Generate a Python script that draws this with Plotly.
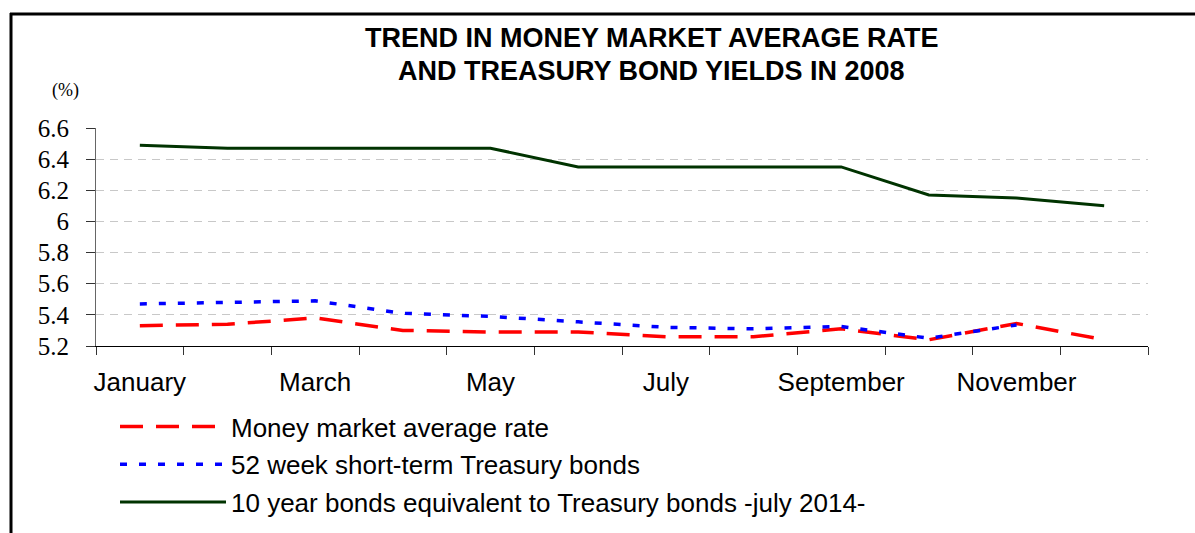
import plotly.graph_objects as go

months = ["January", "February", "March", "April", "May", "June", "July",
          "August", "September", "October", "November", "December"]
tick_labels = ["January", "", "March", "", "May", "", "July", "",
               "September", "", "November", ""]

money_market = [5.33, 5.34, 5.38, 5.30, 5.29, 5.29, 5.26, 5.26, 5.31, 5.24, 5.345, 5.24]
tbill_52w = [5.47, 5.48, 5.49, 5.41, 5.39, 5.355, 5.32, 5.31, 5.325, 5.25, 5.335, None]
bond_10y = [6.49, 6.47, 6.47, 6.47, 6.47, 6.35, 6.35, 6.35, 6.35, 6.17, 6.15, 6.10]

names = ["Money market average rate",
         "52 week short-term Treasury bonds",
         "10 year bonds equivalent to Treasury bonds -july 2014-"]

title_lines = ["<b>TREND IN MONEY MARKET AVERAGE RATE</b>",
               "<b>AND TREASURY BOND YIELDS IN 2008</b>"]

W, H = 1195, 533
L, R, T, B = 96, 1148, 128, 346  # plot area in pixels


def px(x):
    return (x - L) / (R - L)


def py(y):
    return (B - y) / (B - T)


fig = go.Figure()
fig.add_trace(go.Scatter(x=months, y=money_market, name=names[0], mode="lines",
                         line=dict(color="#FF0000", width=3.5, dash="23px,13px"),
                         legendgroup="a"))
fig.add_trace(go.Scatter(x=months, y=tbill_52w, name=names[1], mode="lines",
                         line=dict(color="#0000FF", width=3.5, dash="7px,12px"),
                         legendgroup="b"))
fig.add_trace(go.Scatter(x=months, y=bond_10y, name=names[2], mode="lines",
                         line=dict(color="#003300", width=3),
                         legendgroup="c"))

fig.update_layout(
    width=W, height=H,
    margin=dict(l=L, r=W - R, t=T, b=H - B, pad=0, autoexpand=False),
    paper_bgcolor="white", plot_bgcolor="white",
    showlegend=True,
    legend=dict(x=115 / W, y=1 - 403 / H, xref="container", yref="container",
                xanchor="left", yanchor="top",
                orientation="v", itemwidth=106, tracegroupgap=1,
                font=dict(family="Liberation Sans, Arial", size=26, color="black"),
                bgcolor="rgba(0,0,0,0)"),
    xaxis=dict(type="category", categoryorder="array", categoryarray=months,
               tickmode="array", tickvals=months, ticktext=tick_labels,
               tickson="boundaries", ticks="outside", ticklen=8, tickcolor="#333",
               tickangle=0, automargin=False,
               showline=True, linecolor="black", linewidth=1, showgrid=False,
               tickfont=dict(family="Liberation Sans, Arial", size=26, color="black"),
               ticklabelstandoff=13, range=[-0.5, 11.5]),
    yaxis=dict(range=[5.2, 6.6], dtick=0.2, tick0=5.2, ticks="outside", ticklen=9,
               tickcolor="#333", showline=True, linecolor="#666", linewidth=1,
               showgrid=True, gridcolor="#C8C8C8", gridwidth=1, griddash="8px,6px",
               zeroline=False, ticklabelstandoff=12, automargin=False,
               tickfont=dict(family="Liberation Serif, Times New Roman", size=25, color="black")),
    annotations=[
        dict(text=title_lines[0], x=px(652), y=py(37.5), xref="paper", yref="paper",
             showarrow=False, xanchor="center", yanchor="middle",
             font=dict(family="Liberation Sans, Arial", size=27, color="black")),
        dict(text=title_lines[1], x=px(651), y=py(71), xref="paper", yref="paper",
             showarrow=False, xanchor="center", yanchor="middle",
             font=dict(family="Liberation Sans, Arial", size=27, color="black")),
        dict(text="(%)", x=px(65.5), y=py(90.5), xref="paper", yref="paper", showarrow=False,
             xanchor="center", yanchor="middle",
             font=dict(family="Liberation Serif, Times New Roman", size=18, color="black")),
    ],
    shapes=[
        dict(type="line", xref="paper", yref="paper", x0=px(11), x1=px(11),
             y0=py(540), y1=py(13), line=dict(color="black", width=3)),
        dict(type="line", xref="paper", yref="paper", x0=px(10), x1=px(1200),
             y0=py(14), y1=py(14), line=dict(color="black", width=3)),
    ],
)

fig.write_html("out.html")
